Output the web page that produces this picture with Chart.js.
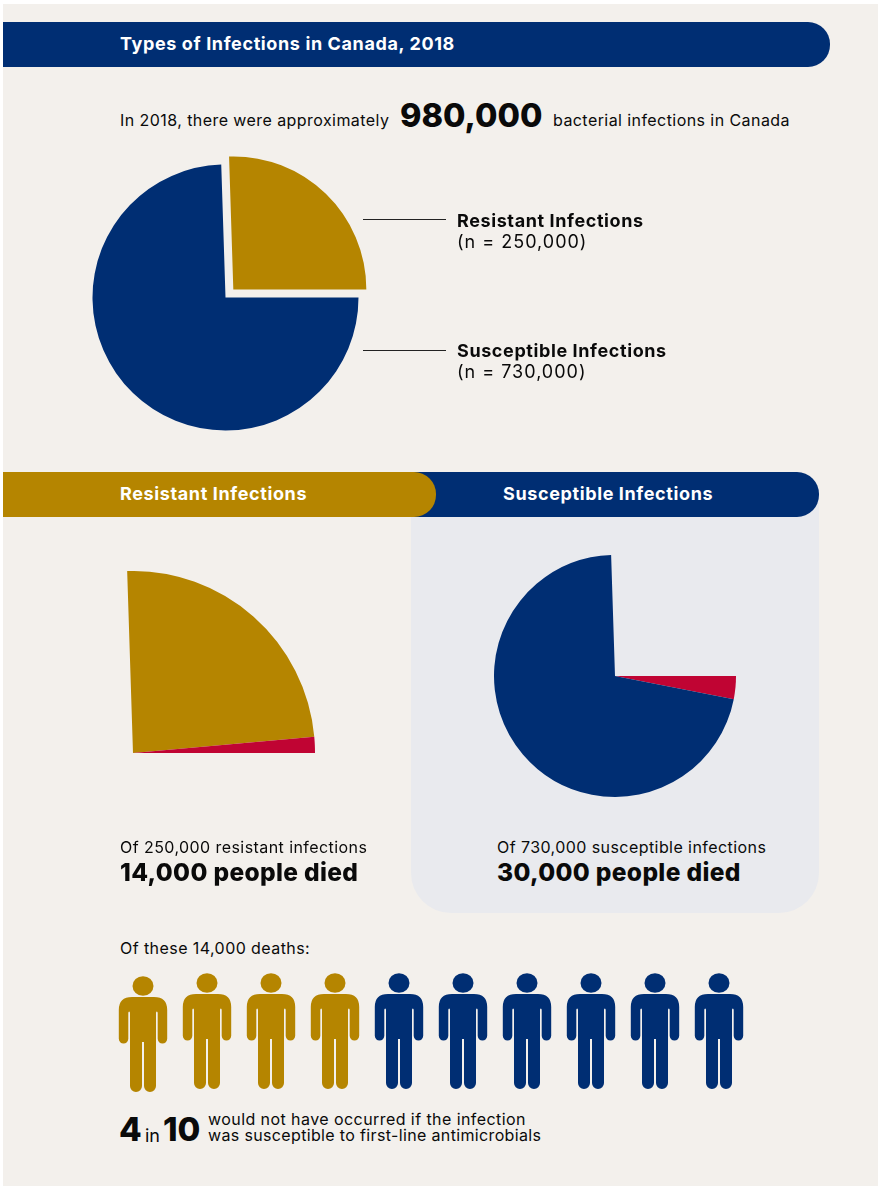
<!DOCTYPE html>
<html lang="en">
<head>
<meta charset="utf-8">
<title>Types of Infections in Canada, 2018</title>
<script src="https://cdn.jsdelivr.net/npm/chart.js@4"></script>
<style>
  html, body { margin: 0; padding: 0; background: #fff; }
  body { position: relative; width: 878px; height: 1186px; overflow: hidden; font-family: Inter, sans-serif; color: #0a0a0a; }
  #page { position: absolute; left: 3px; top: 4px; width: 875px; height: 1183px; background: #f3f0ec; }
  .bar { position: absolute; height: 45px; }
  .t { position: absolute; white-space: nowrap; line-height: 1; }
  .body { font-size: 16px; letter-spacing: 0.43px; }
  .head { color: #fff; font-weight: 700; font-size: 18px; letter-spacing: 0.62px; }
  .label { font-size: 18px; font-weight: 700; letter-spacing: 0.6px; }
  .count { font-size: 18px; letter-spacing: 1px; }
  .big { font-weight: 800; }
  .died { font-weight: 800; font-size: 24.5px; letter-spacing: 0.35px; }
  .rule { position: absolute; left: 363px; width: 83px; height: 1px; background: #222; }
  canvas { position: absolute; }
</style>
</head>
<body>
<div id="page"></div>

<div class="bar" style="left:3px;top:22px;width:827px;background:#002e73;border-radius:0 22px 22px 0"></div>
<div class="t head" style="left:120px;top:35px">Types of Infections in Canada, 2018</div>

<div class="t body" style="left:120px;top:112px">In 2018, there were approximately</div>
<div class="t big" style="left:400px;top:100px;font-size:32.5px">980,000</div>
<div class="t body" style="left:553px;top:112px">bacterial infections in Canada</div>

<canvas id="totalPie" width="311" height="311" style="left:70px;top:142px"></canvas>
<div class="rule" style="top:219px"></div>
<div class="rule" style="top:350px"></div>
<div class="t label" style="left:457px;top:212px">Resistant Infections</div>
<div class="t count" style="left:457px;top:233px">(n = 250,000)</div>
<div class="t label" style="left:457px;top:342px">Susceptible Infections</div>
<div class="t count" style="left:457px;top:363px">(n = 730,000)</div>

<div style="position:absolute;left:411px;top:495px;width:408px;height:418px;background:#e9eaee;border-radius:0 0 40px 40px"></div>
<div class="bar" style="left:400px;top:472px;width:419px;background:#002e73;border-radius:0 22px 22px 0"></div>
<div class="bar" style="left:3px;top:472px;width:433px;background:#b58500;border-radius:0 22px 22px 0"></div>
<div class="t head" style="left:120px;top:485px">Resistant Infections</div>
<div class="t head" style="left:503px;top:485px">Susceptible Infections</div>

<canvas id="resistantPie" width="364" height="364" style="left:-49px;top:571px"></canvas>
<canvas id="susceptiblePie" width="242" height="242" style="left:494px;top:555px"></canvas>

<div class="t body" style="left:120px;top:839px">Of 250,000 resistant infections</div>
<div class="t died" style="left:120px;top:860px">14,000 people died</div>
<div class="t body" style="left:497px;top:839px">Of 730,000 susceptible infections</div>
<div class="t died" style="left:497px;top:860px">30,000 people died</div>

<div class="t body" style="left:120px;top:940px">Of these 14,000 deaths:</div>
<canvas id="people" width="640" height="130" style="left:111px;top:966px"></canvas>

<div class="t big" style="left:119px;top:1113px;font-size:33px">4</div>
<div class="t" style="left:145px;top:1127px;font-size:18px">in</div>
<div class="t big" style="left:163px;top:1113px;font-size:33px">10</div>
<div class="t body" style="left:208px;top:1111px">would not have occurred if the infection</div>
<div class="t body" style="left:208px;top:1127px;letter-spacing:0.35px">was susceptible to first-line antimicrobials</div>

<script>
const infectionLabels = ["Resistant Infections", "Susceptible Infections"];
const infectionCounts = [250000, 730000];

const resistantLabels = ["Survived", "Died", "Susceptible Infections"];
const resistantCounts = [236000, 14000, 730000];

const susceptibleLabels = ["Died", "Survived", "Resistant Infections"];
const susceptibleCounts = [30000, 700000, 250000];

// one figure stands for one death in ten
const avoidableFigures = [1, 2, 3, 4];
const otherFigures = [5, 6, 7, 8, 9, 10];

const blue = "#002e73";
const gold = "#b58500";
const red = "#c00433";

// resistant wedge ends on the horizontal, so the whole pie starts a little before 12 o'clock
const total = infectionCounts[0] + infectionCounts[1];
const startAngle = 90 - (infectionCounts[0] / total) * 360;

function pie(id, labels, data, colors, rotation, offset) {
  new Chart(document.getElementById(id), {
    type: "pie",
    data: {
      labels: labels,
      datasets: [{ data: data, backgroundColor: colors, borderWidth: 0, offset: offset }],
    },
    options: {
      responsive: false,
      animation: false,
      rotation: rotation,
      plugins: { legend: { display: false }, tooltip: { enabled: false } },
    },
  });
}

pie("totalPie", infectionLabels, infectionCounts, [gold, blue], startAngle, [45, 0]);
pie("resistantPie", resistantLabels, resistantCounts, [gold, red, "transparent"], startAngle, 0);
pie("susceptiblePie", susceptibleLabels, susceptibleCounts, [red, blue, "transparent"], 90, 0);

// person glyph used as the point style of the row of figures
function personIcon(color, shiftDown) {
  const c = document.createElement("canvas");
  c.width = 50;
  c.height = 118 + shiftDown * 2;
  const g = c.getContext("2d");
  g.fillStyle = color;
  g.translate(25, 1 + shiftDown * 2);

  g.beginPath();
  g.ellipse(0, 10, 10.5, 9.8, 0, 0, Math.PI * 2);
  g.fill();

  g.beginPath();
  g.moveTo(-11, 21);
  g.lineTo(11, 21);
  g.quadraticCurveTo(24.2, 21, 24.2, 34);
  g.lineTo(24.2, 62.8);
  g.arc(19.45, 62.8, 4.75, 0, Math.PI);
  g.lineTo(14.7, 37);
  g.quadraticCurveTo(14.7, 35.5, 13.8, 35.5);
  g.quadraticCurveTo(13, 35.5, 13, 37);
  g.lineTo(13, 110);
  g.arc(7, 110, 6, 0, Math.PI);
  g.lineTo(1, 66);
  g.lineTo(-1, 66);
  g.lineTo(-1, 110);
  g.arc(-7, 110, 6, 0, Math.PI);
  g.lineTo(-13, 37);
  g.quadraticCurveTo(-13, 35.5, -13.8, 35.5);
  g.quadraticCurveTo(-14.7, 35.5, -14.7, 37);
  g.lineTo(-14.7, 62.8);
  g.arc(-19.45, 62.8, 4.75, 0, Math.PI);
  g.lineTo(-24.2, 34);
  g.quadraticCurveTo(-24.2, 21, -11, 21);
  g.closePath();
  g.fill();
  return c;
}

const firstFigure = personIcon(gold, 3);
const goldFigure = personIcon(gold, 0);
const blueFigure = personIcon(blue, 0);

new Chart(document.getElementById("people"), {
  type: "scatter",
  data: {
    datasets: [
      {
        data: avoidableFigures.map((n) => ({ x: n, y: 0 })),
        pointStyle: avoidableFigures.map((n) => (n === 1 ? firstFigure : goldFigure)),
        clip: false,
      },
      {
        data: otherFigures.map((n) => ({ x: n, y: 0 })),
        pointStyle: blueFigure,
        clip: false,
      },
    ],
  },
  options: {
    responsive: false,
    animation: false,
    layout: { autoPadding: false },
    scales: {
      x: { type: "linear", min: 0.5, max: 10.5, display: false },
      y: { min: -1, max: 1, display: false },
    },
    plugins: { legend: { display: false }, tooltip: { enabled: false } },
  },
});
</script>
</body>
</html>
